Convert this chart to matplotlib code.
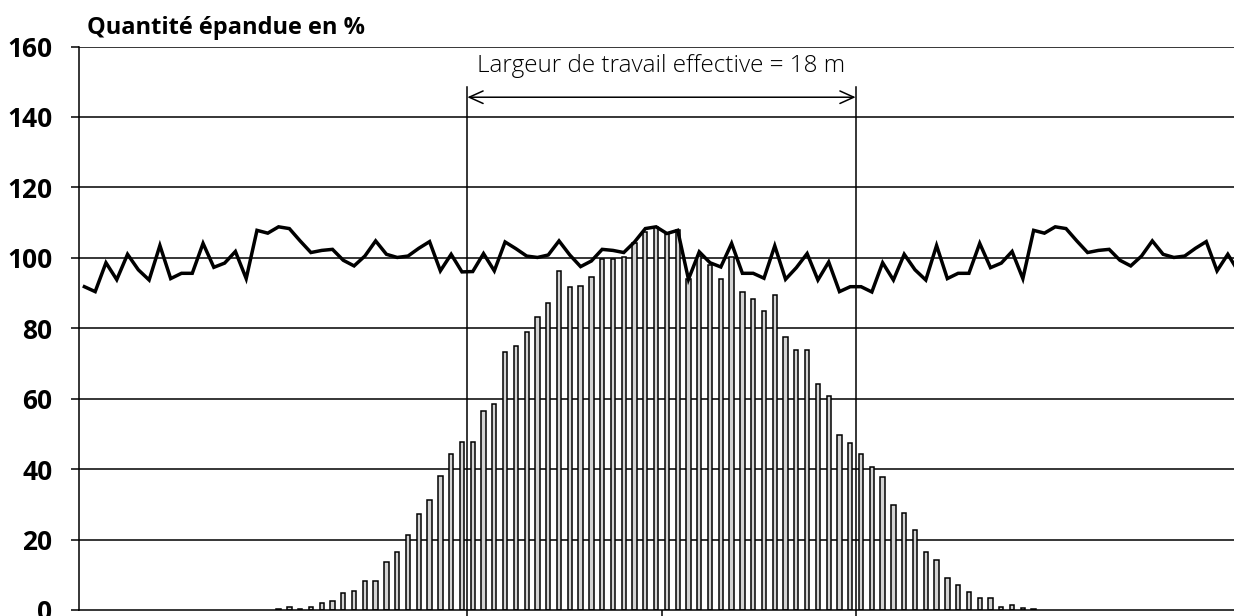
import numpy as np
import matplotlib.pyplot as plt

plt.rcParams["font.family"] = ["Open Sans", "DejaVu Sans"]

# bacs de mesure tous les 0,5 m (position en m par rapport au centre)
bac_pos = np.arange(-17.75, 17.5, 0.5)
bac_val = [0.3, 0.9, 0.3, 0.9, 2.1, 2.6, 4.8, 5.4, 8.2, 8.2,
           13.7, 16.4, 21.2, 27.4, 31.2, 38.0, 44.4, 47.7, 47.7, 56.6,
           58.4, 73.2, 74.9, 79.0, 83.1, 87.2, 96.2, 91.7, 92.0, 94.5,
           99.6, 99.8, 100.3, 104.1, 107.2, 108.7, 106.9, 107.9, 93.9, 100.5,
           98.0, 93.9, 100.3, 90.4, 88.4, 85.0, 89.4, 77.4, 73.8, 73.8,
           64.1, 60.8, 49.8, 47.4, 44.3, 40.6, 37.8, 29.9, 27.5, 22.7,
           16.5, 14.1, 9.2, 7.2, 5.2, 3.4, 3.4, 0.8, 1.3, 0.7, 0.4]

# courbe de recouvrement (aller-retour)
rec_pos = np.arange(-26.75, 27.0, 0.5)
rec_val = [91.8, 90.4, 98.6, 93.8, 101.0, 96.6, 93.7, 103.5, 94.1, 95.6,
           95.6, 104.1, 97.3, 98.5, 101.8, 94.1, 107.8, 107.0, 108.8, 108.3,
           104.8, 101.5, 102.1, 102.4, 99.3, 97.7, 100.5, 104.8, 101.0, 100.1,
           100.5, 102.7, 104.6, 96.3, 101.0, 96.0, 96.1,
           101.2, 96.3, 104.5, 102.6, 100.5, 100.1, 100.8, 104.8, 100.8, 97.5,
           99.1, 102.4, 102.1, 101.5, 104.5, 108.3, 108.8, 106.9, 107.8, 93.9,
           101.7, 98.6, 97.4, 104.1, 95.6, 95.6, 94.2, 103.4, 93.9, 97.2,
           101.2, 93.7, 98.8, 90.4, 91.8, 91.8,
           90.3, 98.6, 93.7, 101.0, 96.6, 93.7, 103.5, 94.1, 95.6, 95.6,
           104.1, 97.2, 98.5, 101.8, 94.1, 107.8, 107.0, 108.8, 108.3, 104.8,
           101.5, 102.1, 102.4, 99.3, 97.7, 100.5, 104.8, 101.0, 100.1, 100.5,
           102.7, 104.6, 96.3, 101.0, 96.0]

largeur = 18.0
y_ticks = [0, 20, 40, 60, 80, 100, 120, 140, 160]

W, H = 1234, 616
fig = plt.figure(figsize=(W / 100, H / 100), dpi=100)
ax = fig.add_axes([79 / W, 6 / H, 1165 / W, 563.5 / H])

for v in y_ticks[1:]:
    ax.axhline(v, color="black", lw=1.1, zorder=1)

ax.bar(bac_pos, bac_val, width=0.2, color="#d3d3d3", edgecolor="black",
       linewidth=1.1, zorder=2)
ax.plot(rec_pos, rec_val, color="black", lw=2.5, zorder=3,
        solid_joinstyle="miter")

# largeur de travail
h = largeur / 2
for xv in (-h, h):
    ax.plot([xv, xv], [0, 148.5], color="black", lw=1.1, zorder=2)
ax.annotate("", xy=(-h, 145.6), xytext=(h, 145.6),
            arrowprops=dict(arrowstyle="<->,head_length=1.0,head_width=0.45",
                            lw=1.1, color="black", shrinkA=0, shrinkB=0))
ax.text(0, 154.6, f"Largeur de travail effective = {largeur:.0f} m",
        ha="center", va="center", fontsize=17.5, fontweight="light")

ax.set_xlim(-27, 27)
ax.set_ylim(0, 160)
ax.set_yticks(y_ticks)
ax.set_yticklabels([str(v) for v in y_ticks], fontsize=19, fontweight="bold")
ax.set_xticks([-h, 0, h])
ax.set_xticklabels([])
ax.tick_params(axis="y", length=6, width=1.1, pad=13)
ax.tick_params(axis="x", length=8, width=1.1)
for s in ["top", "right"]:
    ax.spines[s].set_visible(False)
for s in ["left", "bottom"]:
    ax.spines[s].set_linewidth(1.1)

fig.text(87 / W, 1 - 28 / H, "Quantité épandue en %", fontsize=17,
         fontweight="bold", va="center", ha="left")

fig.savefig("out.png", dpi=100)
